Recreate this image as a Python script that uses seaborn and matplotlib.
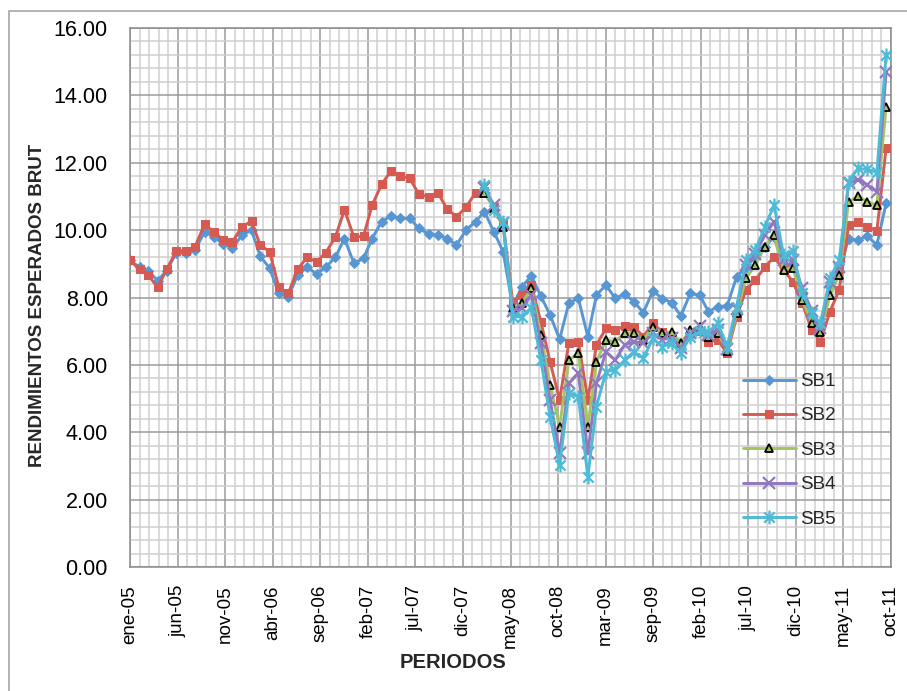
import numpy as np
import pandas as pd
import matplotlib
matplotlib.use("Agg")
import matplotlib.pyplot as plt
import seaborn as sns
from matplotlib.path import Path
from matplotlib.patches import Rectangle

# ---------------- data ----------------
months_all = pd.date_range("2005-01-01", "2011-10-01", freq="MS")   # SB1, SB2
months_late = pd.date_range("2008-03-01", "2011-10-01", freq="MS")  # SB3..SB5

sb1 = [9.10, 8.90, 8.80, 8.50, 8.80, 9.33, 9.33, 9.41, 9.95, 9.80, 9.59, 9.46,
       9.85, 10.00, 9.23, 8.87, 8.12, 8.02, 8.67, 8.90, 8.70, 8.90, 9.19, 9.75,
       9.01, 9.16, 9.75, 10.25, 10.42, 10.35, 10.35, 10.05, 9.88, 9.85, 9.75, 9.56,
       10.00, 10.25, 10.55, 9.95, 9.36, 7.73, 8.32, 8.64, 8.04, 7.48, 6.76, 7.83,
       7.98, 6.84, 8.07, 8.37, 7.98, 8.10, 7.88, 7.55, 8.20, 7.97, 7.85, 7.45,
       8.12, 8.07, 7.58, 7.73, 7.75, 8.62, 8.90, 9.20, 9.50, 9.80, 8.90, 9.00,
       8.10, 7.40, 7.10, 8.30, 8.80, 9.75, 9.70, 9.82, 9.56, 10.80]
sb2 = [9.10, 8.84, 8.67, 8.30, 8.84, 9.39, 9.39, 9.51, 10.17, 9.95, 9.71, 9.66,
       10.10, 10.27, 9.56, 9.36, 8.30, 8.12, 8.84, 9.19, 9.06, 9.33, 9.79, 10.60,
       9.79, 9.82, 10.74, 11.36, 11.75, 11.60, 11.54, 11.06, 10.99, 11.11, 10.62, 10.40,
       10.68, 11.11, 11.15, 10.70, 10.20, 7.88, 8.07, 8.37, 7.28, 6.09, 4.96, 6.64,
       6.69, 4.96, 6.59, 7.08, 7.03, 7.15, 7.13, 6.84, 7.23, 6.98, 6.85, 6.64,
       6.95, 7.00, 6.69, 6.74, 6.34, 7.43, 8.22, 8.52, 8.90, 9.21, 8.82, 8.47,
       7.83, 7.03, 6.69, 7.58, 8.22, 10.15, 10.25, 10.10, 9.98, 12.43]
sb3 = [11.10, 10.65, 10.10, 7.70, 7.83, 8.27, 6.89, 5.40, 4.17, 6.14, 6.34, 4.17,
       6.09, 6.74, 6.69, 6.94, 6.96, 6.74, 7.13, 6.95, 6.98, 6.64, 7.03, 7.13,
       6.84, 6.94, 6.42, 7.53, 8.57, 8.96, 9.51, 9.85, 8.82, 8.89, 7.93, 7.25,
       6.98, 8.07, 8.67, 10.84, 11.00, 10.84, 10.74, 13.66]
sb4 = [11.25, 10.75, 10.20, 7.60, 7.68, 8.07, 6.64, 4.96, 3.37, 5.45, 5.75, 3.37,
       5.45, 6.39, 6.14, 6.59, 6.69, 6.64, 6.94, 6.75, 6.80, 6.50, 6.95, 7.15,
       6.90, 7.05, 6.48, 7.65, 8.95, 9.30, 9.85, 10.25, 9.10, 9.11, 8.27, 7.60,
       7.10, 8.45, 8.90, 11.40, 11.50, 11.35, 11.14, 14.68]
sb5 = [11.35, 10.60, 10.25, 7.42, 7.43, 7.70, 6.14, 4.46, 3.03, 5.17, 5.06, 2.68,
       4.76, 5.80, 5.85, 6.14, 6.39, 6.19, 6.79, 6.54, 6.64, 6.34, 6.84, 7.00,
       6.98, 7.23, 6.54, 7.73, 9.11, 9.41, 10.10, 10.74, 9.26, 9.38, 8.12, 7.53,
       7.23, 8.57, 9.11, 11.44, 11.83, 11.80, 11.72, 15.20]

series_names = ["SB1", "SB2", "SB3", "SB4", "SB5"]
tick_labels = ["ene-05", "jun-05", "nov-05", "abr-06", "sep-06", "feb-07", "jul-07",
               "dic-07", "may-08", "oct-08", "mar-09", "sep-09", "feb-10", "jul-10",
               "dic-10", "may-11", "oct-11"]

# ---------------- setup ----------------
sns.set_style("white")
plt.rcParams["font.family"] = ["Liberation Sans", "DejaVu Sans"]

origin = pd.Timestamp("2005-01-01")
def to_days(idx):
    return np.asarray((idx - origin).days, dtype=float)

frames = []
for name, vals, idx in [("SB1", sb1, months_all), ("SB2", sb2, months_all),
                        ("SB3", sb3, months_late), ("SB4", sb4, months_late),
                        ("SB5", sb5, months_late)]:
    frames.append(pd.DataFrame({"day": to_days(idx), "val": vals, "serie": name}))
df = pd.concat(frames, ignore_index=True)

colors = {"SB1": "#5896D2", "SB2": "#D55A52", "SB3": "#A4C460",
          "SB4": "#9178BE", "SB5": "#4DBAD6"}

star = Path([(-1, -1), (1, 1), (-1, 1), (1, -1), (0, -1.35), (0, 1.35)],
            [Path.MOVETO, Path.LINETO, Path.MOVETO, Path.LINETO, Path.MOVETO, Path.LINETO])

styles = {
    "SB1": dict(marker="D", markersize=5.5, markeredgecolor=colors["SB1"], markerfacecolor=colors["SB1"]),
    "SB2": dict(marker="s", markersize=5.5, markeredgecolor=colors["SB2"], markerfacecolor=colors["SB2"]),
    "SB3": dict(marker="^", markersize=6, markeredgecolor="black", markerfacecolor=colors["SB3"], markeredgewidth=1.3),
    "SB4": dict(marker="x", markersize=8, markeredgecolor=colors["SB4"], markeredgewidth=1.6),
    "SB5": dict(marker=star, markersize=10, markeredgecolor=colors["SB5"], markeredgewidth=1.6),
}

W, H = 907, 691
fig = plt.figure(figsize=(W / 100, H / 100), dpi=100)
ax = fig.add_axes([130 / W, 1 - 567 / H, (891 - 130) / W, (567 - 28) / H])

for name in series_names:
    sub = df[df["serie"] == name]
    sns.lineplot(data=sub, x="day", y="val", ax=ax, color=colors[name], lw=2.1,
                 label=name, errorbar=None, sort=True, zorder=3, **styles[name])

# ---------------- axes ----------------
tick_days = np.arange(0, 155 * (len(tick_labels) - 1) + 1, 155)
ax.set_xlim(0, tick_days[-1])
ax.set_ylim(0, 16)
ax.set_xticks(tick_days)
ax.set_xticklabels(tick_labels, rotation=90, fontsize=13.5)
ax.set_xticks(np.arange(0, tick_days[-1] + 1, 31), minor=True)
ax.set_yticks(np.arange(0, 16.01, 2))
ax.set_yticklabels([f"{v:.2f}" for v in np.arange(0, 16.01, 2)], fontsize=15.5)
ax.set_yticks(np.arange(0, 16.01, 0.4), minor=True)

ax.grid(which="minor", color="#cfcfcf", lw=1.1)
ax.grid(which="major", color="#9a9a9a", lw=1.1)
ax.set_axisbelow(True)
for s in ax.spines.values():
    s.set_color("#8c8c8c")
    s.set_linewidth(1.1)

ax.tick_params(axis="both", which="major", direction="out", length=6, width=1.1,
               color="#8c8c8c", labelcolor="black")
ax.tick_params(axis="y", which="major", pad=10)
ax.tick_params(axis="x", which="major", pad=7)
ax.tick_params(which="minor", length=0)

ax.set_xlabel("")
ax.set_ylabel("")
fig.text(453 / W, 1 - 662 / H, "PERIODOS", ha="center", va="center",
         fontsize=14.5, fontweight="bold")
fig.text(38 / W, 1 - 305 / H, "RENDIMIENTOS ESPERADOS BRUT", ha="center", va="center",
         rotation=90, fontsize=13.5, fontweight="bold")

handles, labels = ax.get_legend_handles_labels()
ax.legend(handles, labels, loc="upper left", bbox_to_anchor=(743 / W, 1 - 373 / H),
          bbox_transform=fig.transFigure, frameon=False, borderpad=0, borderaxespad=0,
          handlelength=2.8, handletextpad=0.25, labelspacing=0.92,
          prop={"family": ["Liberation Sans", "DejaVu Sans"], "size": 13.5})

fig.patches.append(Rectangle((9 / W, -0.05), 1.2, 1 - 11 / H + 0.05, transform=fig.transFigure,
                             fill=False, edgecolor="#a6a6a6", lw=1.2))

fig.savefig("out.png", dpi=100, facecolor="white")
